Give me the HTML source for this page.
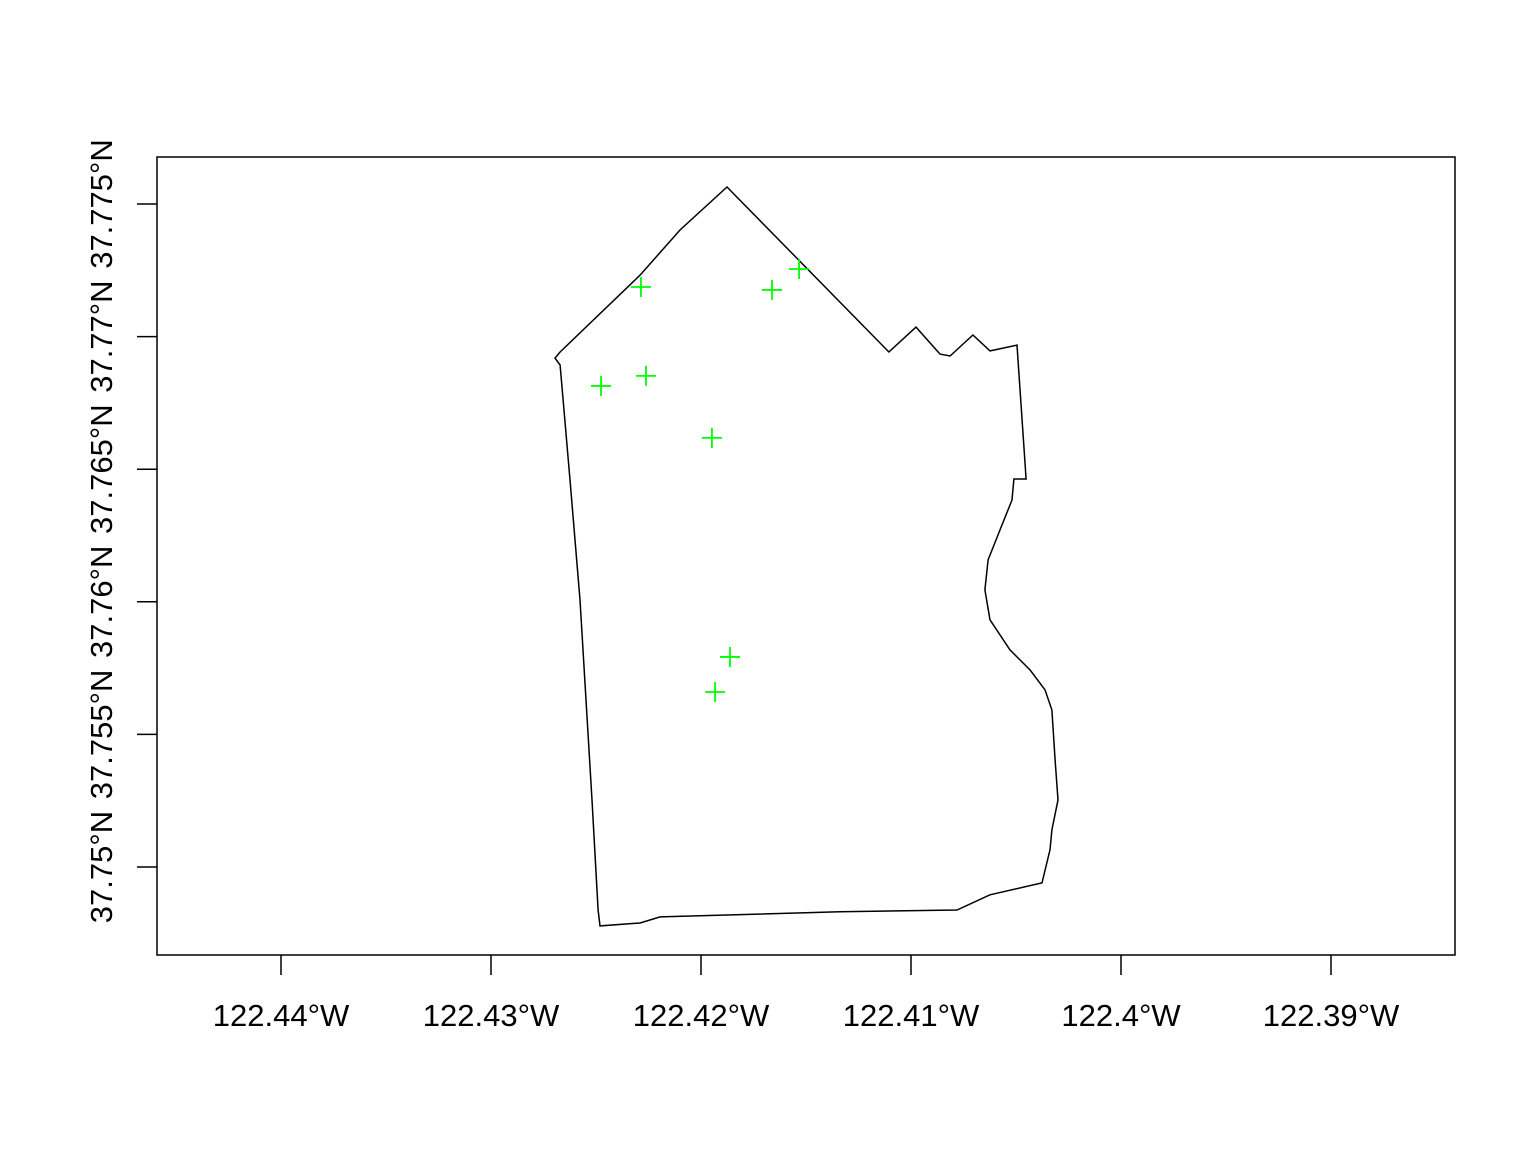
<!DOCTYPE html>
<html><head><meta charset="utf-8"><style>
body{margin:0;background:#fff}
svg text{font-family:"Liberation Sans",Arial,sans-serif;font-size:31px;fill:#000}
</style></head><body>
<svg id="chart" width="1536" height="1152" viewBox="0 0 1536 1152">
<rect x="157" y="157" width="1298" height="798" fill="none" stroke="#000" stroke-width="1.5"/>
<g id="axes"></g>
<path id="poly" fill="none" stroke="#000" stroke-width="1.5"/>
<g id="pts"></g>
</svg>
<script>
const xTicks=[-122.44,-122.43,-122.42,-122.41,-122.40,-122.39];
const xTickLabels=["122.44\u00b0W","122.43\u00b0W","122.42\u00b0W","122.41\u00b0W","122.4\u00b0W","122.39\u00b0W"];
const yTicks=[37.775,37.77,37.765,37.76,37.755,37.75];
const yTickLabels=["37.775\u00b0N","37.77\u00b0N","37.765\u00b0N","37.76\u00b0N","37.755\u00b0N","37.75\u00b0N"];
const polyLon=[-122.41876,-122.41105,-122.40976,-122.40862,-122.40814,-122.40705,-122.40624,-122.40495,-122.40452,-122.40510,-122.40519,-122.40576,-122.40633,-122.40648,-122.40624,-122.40529,-122.40433,-122.40362,-122.40329,-122.40314,-122.40300,-122.40329,-122.40338,-122.40376,-122.40624,-122.40781,-122.41338,-122.42005,-122.42195,-122.42290,-122.42481,-122.42490,-122.42519,-122.42576,-122.42624,-122.42671,-122.42695,-122.42671,-122.42290,-122.42100];
const polyLat=[37.77564,37.76942,37.77036,37.76934,37.76927,37.77006,37.76946,37.76968,37.76463,37.76463,37.76384,37.76271,37.76158,37.76045,37.75932,37.75819,37.75743,37.75668,37.75592,37.75404,37.75253,37.75140,37.75065,37.74940,37.74895,37.74838,37.74831,37.74816,37.74812,37.74789,37.74778,37.74838,37.75253,37.76007,37.76460,37.76893,37.76919,37.76942,37.77232,37.77402];
const ptLon=[-122.42286,-122.41662,-122.41533,-122.42476,-122.42262,-122.41948,-122.41862,-122.41933];
const ptLat=[37.77187,37.77176,37.77255,37.76814,37.76852,37.76618,37.75792,37.75660];
function xs(v){return 281+(v+122.44)/0.01*210.0;}
function ys(v){return 204+(37.775-v)/0.005*132.6;}
const NS="http://www.w3.org/2000/svg";
const ax=document.getElementById('axes');
xTicks.forEach((t,i)=>{
 const x=xs(t);
 const l=document.createElementNS(NS,'line');
 l.setAttribute('x1',x);l.setAttribute('x2',x);l.setAttribute('y1',955);l.setAttribute('y2',975);
 l.setAttribute('stroke','#000');l.setAttribute('stroke-width','1.5');
 
 
 ax.appendChild(l);
 const tx=document.createElementNS(NS,'text');
 tx.setAttribute('x',x);tx.setAttribute('y',1026);tx.setAttribute('text-anchor','middle');
 tx.textContent=xTickLabels[i];
 
 
 ax.appendChild(tx);
});
yTicks.forEach((t,i)=>{
 const y=ys(t);
 const l=document.createElementNS(NS,'line');
 l.setAttribute('x1',137);l.setAttribute('x2',157);l.setAttribute('y1',y);l.setAttribute('y2',y);
 l.setAttribute('stroke','#000');l.setAttribute('stroke-width','1.5');
 
 
 ax.appendChild(l);
 const tx=document.createElementNS(NS,'text');
 tx.setAttribute('x',0);tx.setAttribute('y',0);tx.setAttribute('text-anchor','middle');
 tx.setAttribute('transform','translate(112,'+y+') rotate(-90)');
 tx.textContent=yTickLabels[i];
 
 
 ax.appendChild(tx);
});
let d='';
polyLon.forEach((v,i)=>{d+=(i?'L':'M')+xs(v).toFixed(1)+','+ys(polyLat[i]).toFixed(1);});
document.getElementById('poly').setAttribute('d',d+'Z');
const pg=document.getElementById('pts');
ptLon.forEach((v,i)=>{
 const x=xs(v),y=ys(ptLat[i]);
 const p=document.createElementNS(NS,'path');
 p.setAttribute('d','M'+(x-10)+','+y+'H'+(x+10)+'M'+x+','+(y-10)+'V'+(y+10));
 p.setAttribute('stroke','#00ff00');p.setAttribute('stroke-width','1.8');
 
 
 pg.appendChild(p);
});
</script>
</body></html>
